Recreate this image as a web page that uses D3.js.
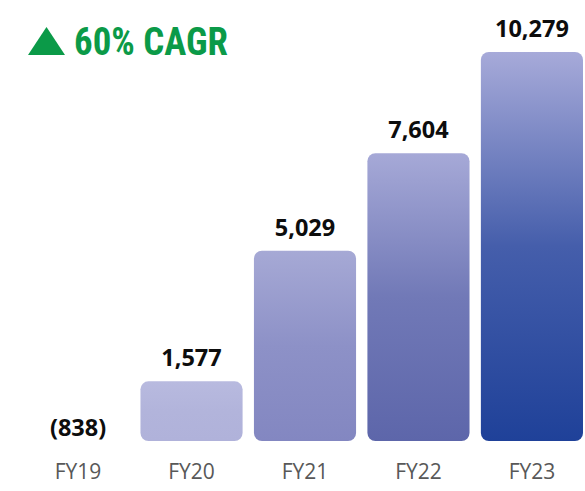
<!DOCTYPE html>
<html>
<head>
<meta charset="utf-8">
<script src="https://cdn.jsdelivr.net/npm/d3@7"></script>
<style>
  html, body { margin: 0; padding: 0; background: #fff; }
  svg { display: block; }
</style>
</head>
<body>
<div id="chart"></div>
<script>
// data
const years = ["FY19", "FY20", "FY21", "FY22", "FY23"];
const values = [-838, 1577, 5029, 7604, 10279];
const headline = "60% CAGR";

const width = 585, height = 491;
const baseline = 441, topY = 52;

const svg = d3.select("#chart").append("svg")
  .attr("width", width)
  .attr("height", height);

const x = d3.scaleBand()
  .domain(years)
  .range([27, 583])
  .paddingInner(0.1)
  .paddingOuter(0);

const y = d3.scaleLinear()
  .domain([0, d3.max(values)])
  .range([baseline, topY]);

// bottom colour of each bar's gradient darkens with the value
const bottomColor = d3.scaleLinear()
  .domain([1577, 5029, 7604, 10279])
  .range(["#b0b2da", "#8387c1", "#5d66aa", "#1f4199"]);
const topColor = d3.scaleLinear()
  .domain([1577, 5029, 10279])
  .range(["#b8badf", "#a6a9d5", "#a7aad9"]);

const data = years.map((d, i) => ({ year: d, value: values[i], i: i }));

const defs = svg.append("defs");
data.forEach(d => {
  if (d.value <= 0) return;
  const top = topColor(d.value), bot = bottomColor(d.value);
  const g = defs.append("linearGradient")
    .attr("id", "grad" + d.i)
    .attr("x1", 0).attr("y1", 0).attr("x2", 0).attr("y2", 1);
  g.append("stop").attr("offset", "0%").attr("stop-color", top);
  g.append("stop").attr("offset", "50%").attr("stop-color", d3.interpolateRgb(top, bot)(0.72));
  g.append("stop").attr("offset", "100%").attr("stop-color", bot);
});

// bars (negative year has no bar)
svg.append("g")
  .selectAll("rect")
  .data(data.filter(d => d.value > 0))
  .enter().append("rect")
  .attr("x", d => x(d.year))
  .attr("y", d => y(d.value))
  .attr("width", x.bandwidth())
  .attr("height", d => y(0) - y(d.value))
  .attr("rx", 8).attr("ry", 8)
  .attr("fill", d => "url(#grad" + d.i + ")");

// value labels
const fmt = d3.format(",");
svg.append("g")
  .selectAll("text")
  .data(data)
  .enter().append("text")
  .attr("x", d => x(d.year) + x.bandwidth() / 2)
  .attr("y", d => d.value > 0 ? y(d.value) - 15 : y(0) - 5)
  .attr("text-anchor", "middle")
  .style("font-family", "'Open Sans', sans-serif")
  .style("font-weight", 700)
  .style("font-size", "23.5px")
  .attr("fill", "#0d0d0d")
  .text(d => d.value < 0 ? "(" + fmt(-d.value) + ")" : fmt(d.value));

// category axis
const xAxis = svg.append("g")
  .attr("transform", "translate(0," + (baseline + 38) + ")")
  .call(d3.axisBottom(x).tickSize(0).tickPadding(0));
xAxis.select(".domain").remove();
xAxis.selectAll("text")
  .attr("dy", 0)
  .style("font-family", "'Open Sans', sans-serif")
  .style("font-size", "21px")
  .attr("fill", "#585858");

// headline
const green = "#0b9a48";
const head = svg.append("g").attr("transform", "translate(28,55)");
head.append("path")
  .attr("d", "M0,0 L37,0 L18.5,-28 Z")
  .attr("fill", green);
head.append("text")
  .attr("x", 46)
  .attr("y", 0)
  .attr("textLength", 154)
  .attr("lengthAdjust", "spacingAndGlyphs")
  .style("font-family", "'Liberation Sans Narrow', 'Roboto Condensed', sans-serif")
  .style("font-weight", 700)
  .style("font-size", "39px")
  .attr("fill", green)
  .text(headline);
</script>
</body>
</html>
